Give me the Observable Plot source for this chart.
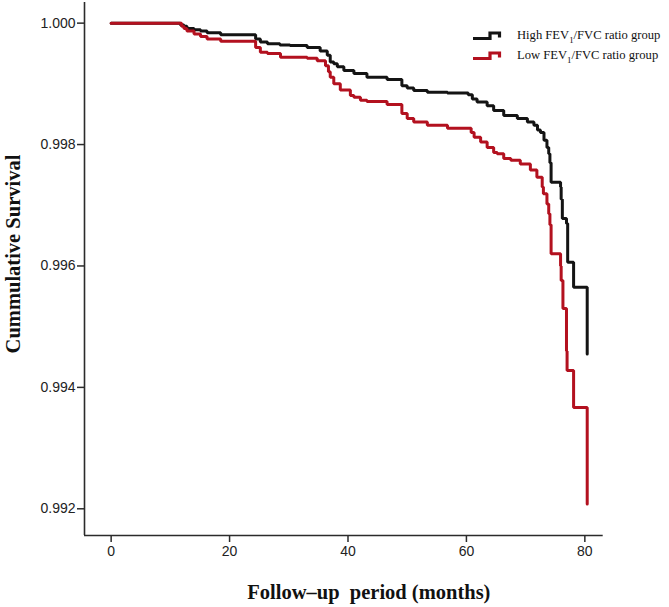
<!DOCTYPE html>
<html>
<head>
<meta charset="utf-8">
<script src="https://cdn.jsdelivr.net/npm/d3@7"></script>
<script src="https://cdn.jsdelivr.net/npm/@observablehq/plot@0.6"></script>
<style>
  html, body { margin: 0; padding: 0; background: #fff; }
  #wrap { position: relative; width: 669px; height: 607px; overflow: hidden; }
  #legend { position: absolute; left: 470px; top: 27px; font-family: "Liberation Serif", "Times New Roman", serif; font-size: 12.6px; line-height: 16px; color: #111; }
  .row { position: absolute; left: 0; white-space: nowrap; }
  .row svg { position: absolute; left: 0; top: 0; }
  .row span { position: absolute; left: 47px; top: 0; }
  sub { font-size: 0.7em; line-height: 0; }
</style>
</head>
<body>
<div id="wrap"></div>
<script>
// Group names
const groups = ["High FEV1/FVC ratio group", "Low FEV1/FVC ratio group"];
const colors = ["#141414", "#b3111f"];

// High FEV1/FVC ratio group: Kaplan–Meier steps (month, cumulative survival)
const highMonths = [0, 11.7, 12.3, 12.8, 14.0, 15.1, 16.2, 18.5, 24.4, 25.2, 26.4, 28.5, 30.2, 33.1, 35.3, 36.5, 37.0, 37.6, 38.2, 39.3, 41.0, 43.2, 46.6, 49.1, 50.0, 51.1, 53.4, 56.8, 60.3, 61.0, 61.8, 63.5, 64.6, 66.3, 68.6, 70.3, 71.4, 72.0, 72.5, 73.1, 73.6, 73.9, 74.1, 74.3, 75.9, 76.0, 76.2, 76.9, 77.1, 78.1, 80.4];
const highSurv = [1.0, 0.99997, 0.99995, 0.99991, 0.99989, 0.99987, 0.99984, 0.99981, 0.99974, 0.99969, 0.99966, 0.99964, 0.99963, 0.99960, 0.99954, 0.99947, 0.99936, 0.99933, 0.99928, 0.99922, 0.99917, 0.99911, 0.99907, 0.99897, 0.99893, 0.99889, 0.99886, 0.99885, 0.99882, 0.99875, 0.99870, 0.99864, 0.99856, 0.99848, 0.99843, 0.99837, 0.99832, 0.99824, 0.99820, 0.99807, 0.99795, 0.99785, 0.99770, 0.99738, 0.99730, 0.99710, 0.99678, 0.99670, 0.99606, 0.99565, 0.99455];

// Low FEV1/FVC ratio group
const lowMonths = [0, 11.9, 12.3, 12.8, 14.0, 15.1, 16.2, 18.5, 24.4, 25.2, 26.4, 28.6, 33.1, 34.8, 36.2, 36.7, 37.0, 37.6, 38.7, 40.4, 41.0, 42.1, 43.2, 46.6, 49.1, 50.0, 51.1, 53.4, 56.8, 60.8, 61.3, 62.4, 63.5, 64.6, 65.2, 66.3, 67.5, 69.1, 70.8, 71.9, 72.8, 73.0, 73.6, 73.9, 74.1, 74.3, 75.9, 76.0, 76.3, 76.9, 77.0, 78.1, 80.4];
const lowSurv = [1.0, 0.99995, 0.99991, 0.99987, 0.99982, 0.99978, 0.99974, 0.99970, 0.99960, 0.99952, 0.99950, 0.99944, 0.99942, 0.99938, 0.99930, 0.99920, 0.99911, 0.99900, 0.99890, 0.99881, 0.99878, 0.99873, 0.99871, 0.99866, 0.99851, 0.99843, 0.99837, 0.99832, 0.99827, 0.99820, 0.99812, 0.99804, 0.99795, 0.99787, 0.99785, 0.99777, 0.99774, 0.99768, 0.99758, 0.99746, 0.99730, 0.99719, 0.99702, 0.99686, 0.99668, 0.99620, 0.99600, 0.99576, 0.99530, 0.99460, 0.99428, 0.99367, 0.99208];

// Axis ticks and titles
const xTicks = [0, 20, 40, 60, 80];
const yTicks = [0.992, 0.994, 0.996, 0.998, 1.000];
const xDomain = [-4.5, 83.1];
const yDomain = [0.99156, 1.00034];
const xTitle = "Follow\u2013up\u00a0 period (months)";
const yTitle = "Cummulative Survival";

const high = highMonths.map((m, i) => ({month: m, surv: highSurv[i], group: groups[0]}));
const low = lowMonths.map((m, i) => ({month: m, surv: lowSurv[i], group: groups[1]}));

const axisColor = "#2b2b2b";
const tickFont = "'Liberation Sans', Arial, sans-serif";
const titleFont = "'Liberation Serif', 'Times New Roman', serif";

const chart = Plot.plot({
  width: 669,
  height: 607,
  marginLeft: 84,
  marginRight: 66.3,
  marginTop: 2,
  marginBottom: 72,
  style: {background: "#fff", overflow: "visible"},
  x: {domain: xDomain},
  y: {domain: yDomain},
  color: {domain: groups, range: colors},
  marks: [
    Plot.axisX(xTicks, {tickSize: 7, tickPadding: 4, fontSize: 14, fontFamily: tickFont, fill: "#222", stroke: axisColor, strokeWidth: 1.5, label: null}),
    Plot.axisY(yTicks, {tickSize: 7, tickPadding: 2, fontSize: 14, fontFamily: tickFont, fill: "#222", stroke: axisColor, strokeWidth: 1.5, tickFormat: d3.format(".3f"), label: null}),
    Plot.ruleX([xDomain[0]], {stroke: axisColor, strokeWidth: 1.6}),
    Plot.ruleY([yDomain[0]], {stroke: axisColor, strokeWidth: 1.6}),
    Plot.line(high, {x: "month", y: "surv", stroke: "group", curve: "step-after", strokeWidth: 3, strokeLinejoin: "miter"}),
    Plot.line(low, {x: "month", y: "surv", stroke: "group", curve: "step-after", strokeWidth: 3, strokeLinejoin: "miter"}),
    Plot.text([xTitle], {frameAnchor: "bottom", text: d => d, dx: 25, dy: 63, lineAnchor: "bottom", textAnchor: "middle", fontFamily: titleFont, fontWeight: "bold", fontSize: 20.5, fill: "#111"}),
    Plot.text([yTitle], {frameAnchor: "left", text: d => d, rotate: -90, dx: -71, dy: -15, lineAnchor: "middle", textAnchor: "middle", fontFamily: titleFont, fontWeight: "bold", fontSize: 20.5, fill: "#111"})
  ]
});

const wrap = document.getElementById("wrap");
wrap.appendChild(chart);

// Legend (SPSS-style step symbols)
const legend = document.createElement("div");
legend.id = "legend";
const rows = [
  {label: ["High FEV", "1", "/FVC ratio group"], color: colors[0], top: 0},
  {label: ["Low FEV", "1", "/FVC ratio group"], color: colors[1], top: 20}
];
legend.innerHTML = rows.map(r => `
  <div class="row" style="top:${r.top}px">
    <svg width="34" height="16" viewBox="0 0 34 16" style="top:0px">
      <path d="M3,11.5 H20 V6 H29.5 V10.5" fill="none" stroke="${r.color}" stroke-width="3.2" stroke-linejoin="miter"/>
    </svg>
    <span>${r.label[0]}<sub>${r.label[1]}</sub>${r.label[2]}</span>
  </div>`).join("");
wrap.appendChild(legend);
</script>
</body>
</html>
